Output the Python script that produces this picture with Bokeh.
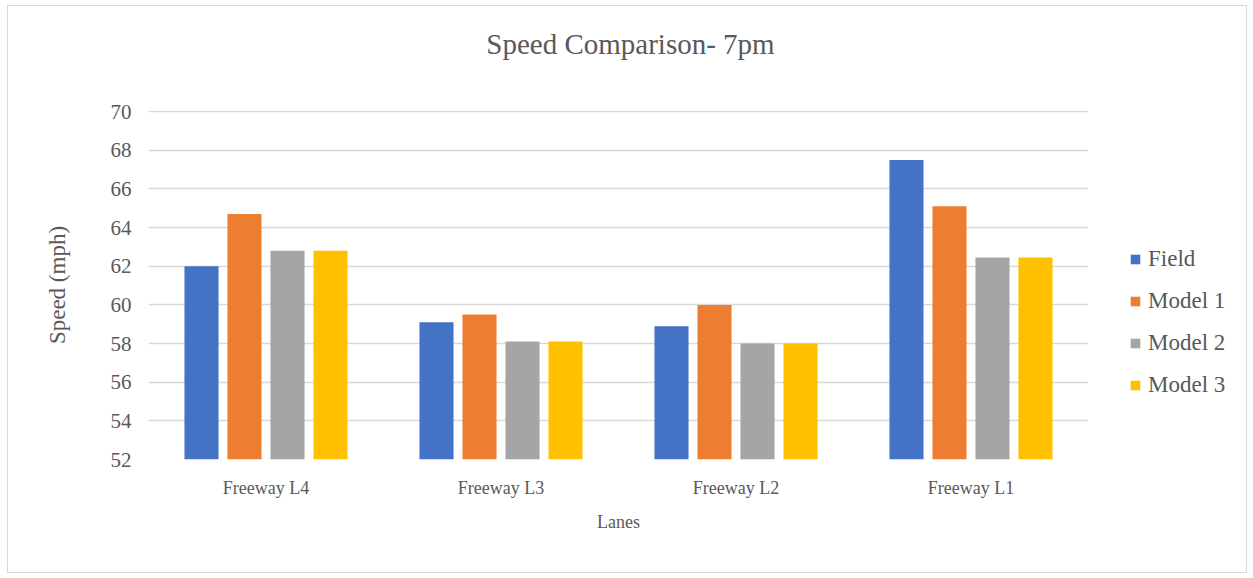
from bokeh.plotting import figure
from bokeh.models import ColumnDataSource, Legend, LegendItem, FixedTicker, Label
from bokeh.layouts import row, column
from bokeh.transform import dodge
from bokeh.embed import file_html
from bokeh.resources import INLINE

lanes = ["Freeway L4", "Freeway L3", "Freeway L2", "Freeway L1"]
series = ["Field", "Model 1", "Model 2", "Model 3"]
field = [62.0, 59.1, 58.9, 67.5]
model1 = [64.7, 59.5, 60.0, 65.1]
model2 = [62.8, 58.1, 58.0, 62.45]
model3 = [62.8, 58.1, 58.0, 62.45]
colors = ["#4472C4", "#ED7D31", "#A5A5A5", "#FFC000"]
y_ticks = [52, 54, 56, 58, 60, 62, 64, 66, 68, 70]
chart_title = "Speed Comparison- 7pm"

FONT = "Liberation Serif"
TXT = "#595959"

source = ColumnDataSource(dict(lane=lanes, Field=field, M1=model1, M2=model2, M3=model3))
cols = ["Field", "M1", "M2", "M3"]

# title strip
pt = figure(width=1238, height=74, output_backend="svg", toolbar_location=None,
            x_axis_location=None, y_axis_location=None,
            min_border_left=0, min_border_right=0, min_border_top=0, min_border_bottom=0)
pt.outline_line_color = None
pt.grid.visible = False
pt.add_layout(Label(x=622, y=37, x_units="screen", y_units="screen", text=chart_title,
                    text_align="center", text_baseline="middle", text_font=FONT,
                    text_font_size="29px", text_color=TXT))

# main chart
p = figure(x_range=lanes, y_range=(52, 70.06), width=1080, height=492,
           output_backend="svg", toolbar_location=None,
           min_border_left=140, min_border_right=0, min_border_top=30, min_border_bottom=113)
p.outline_line_color = None

step = 0.183
width = 0.145
for i, (c, col) in enumerate(zip(cols, colors)):
    p.vbar(x=dodge("lane", (i - 1.5) * step, range=p.x_range), top=c, bottom=52,
           width=width, source=source, fill_color=col, line_color=None)

p.yaxis.ticker = FixedTicker(ticks=y_ticks)
for ax in (p.xaxis[0], p.yaxis[0]):
    ax.axis_line_color = None
    ax.major_tick_line_color = None
    ax.minor_tick_line_color = None
    ax.major_label_text_font = FONT
    ax.major_label_text_color = TXT
    ax.axis_label_text_font = FONT
    ax.axis_label_text_color = TXT
    ax.axis_label_text_font_style = "normal"

p.yaxis.major_label_text_font_size = "21px"
p.xaxis.major_label_text_font_size = "18px"
p.yaxis.axis_label = "Speed (mph)"
p.xaxis.axis_label = "Lanes"
p.yaxis.axis_label_text_font_size = "23px"
p.xaxis.axis_label_text_font_size = "18px"
p.yaxis.major_label_standoff = 11
p.yaxis.axis_label_standoff = 38
p.xaxis.major_label_standoff = 12
p.xaxis.axis_label_standoff = 11

p.xgrid.grid_line_color = None
p.ygrid.grid_line_color = "#D9D9D9"
p.ygrid.grid_line_width = 1.5

# legend panel (separate figure so the legend is not clipped by the plot frame)
pl = figure(x_range=lanes, y_range=(0, 1), width=158, height=492,
            output_backend="svg", toolbar_location=None,
            x_axis_location=None, y_axis_location=None,
            min_border_left=0, min_border_right=0, min_border_top=0, min_border_bottom=0)
pl.outline_line_color = None
pl.grid.visible = False
items = []
for i, (c, name, col) in enumerate(zip(cols, series, colors)):
    r = pl.vbar(x="lane", top=0, bottom=0, width=0, source=source,
                fill_color=col, line_color=None)
    items.append(LegendItem(label=name, renderers=[r]))

legend = Legend(items=items, location=(41, 61), orientation="vertical",
                label_text_font=FONT, label_text_font_size="23px", label_text_color=TXT,
                glyph_width=12, glyph_height=12, label_height=21, spacing=16,
                label_standoff=7, padding=0, margin=0,
                border_line_color=None, background_fill_alpha=0)
pl.add_layout(legend, "center")

layout = column(pt, row(p, pl, spacing=0), spacing=0)
layout.styles = {"outline": "1px solid #D9D9D9", "margin-left": "8px", "margin-top": "6px"}

open("out.html", "w").write(file_html(layout, INLINE))
